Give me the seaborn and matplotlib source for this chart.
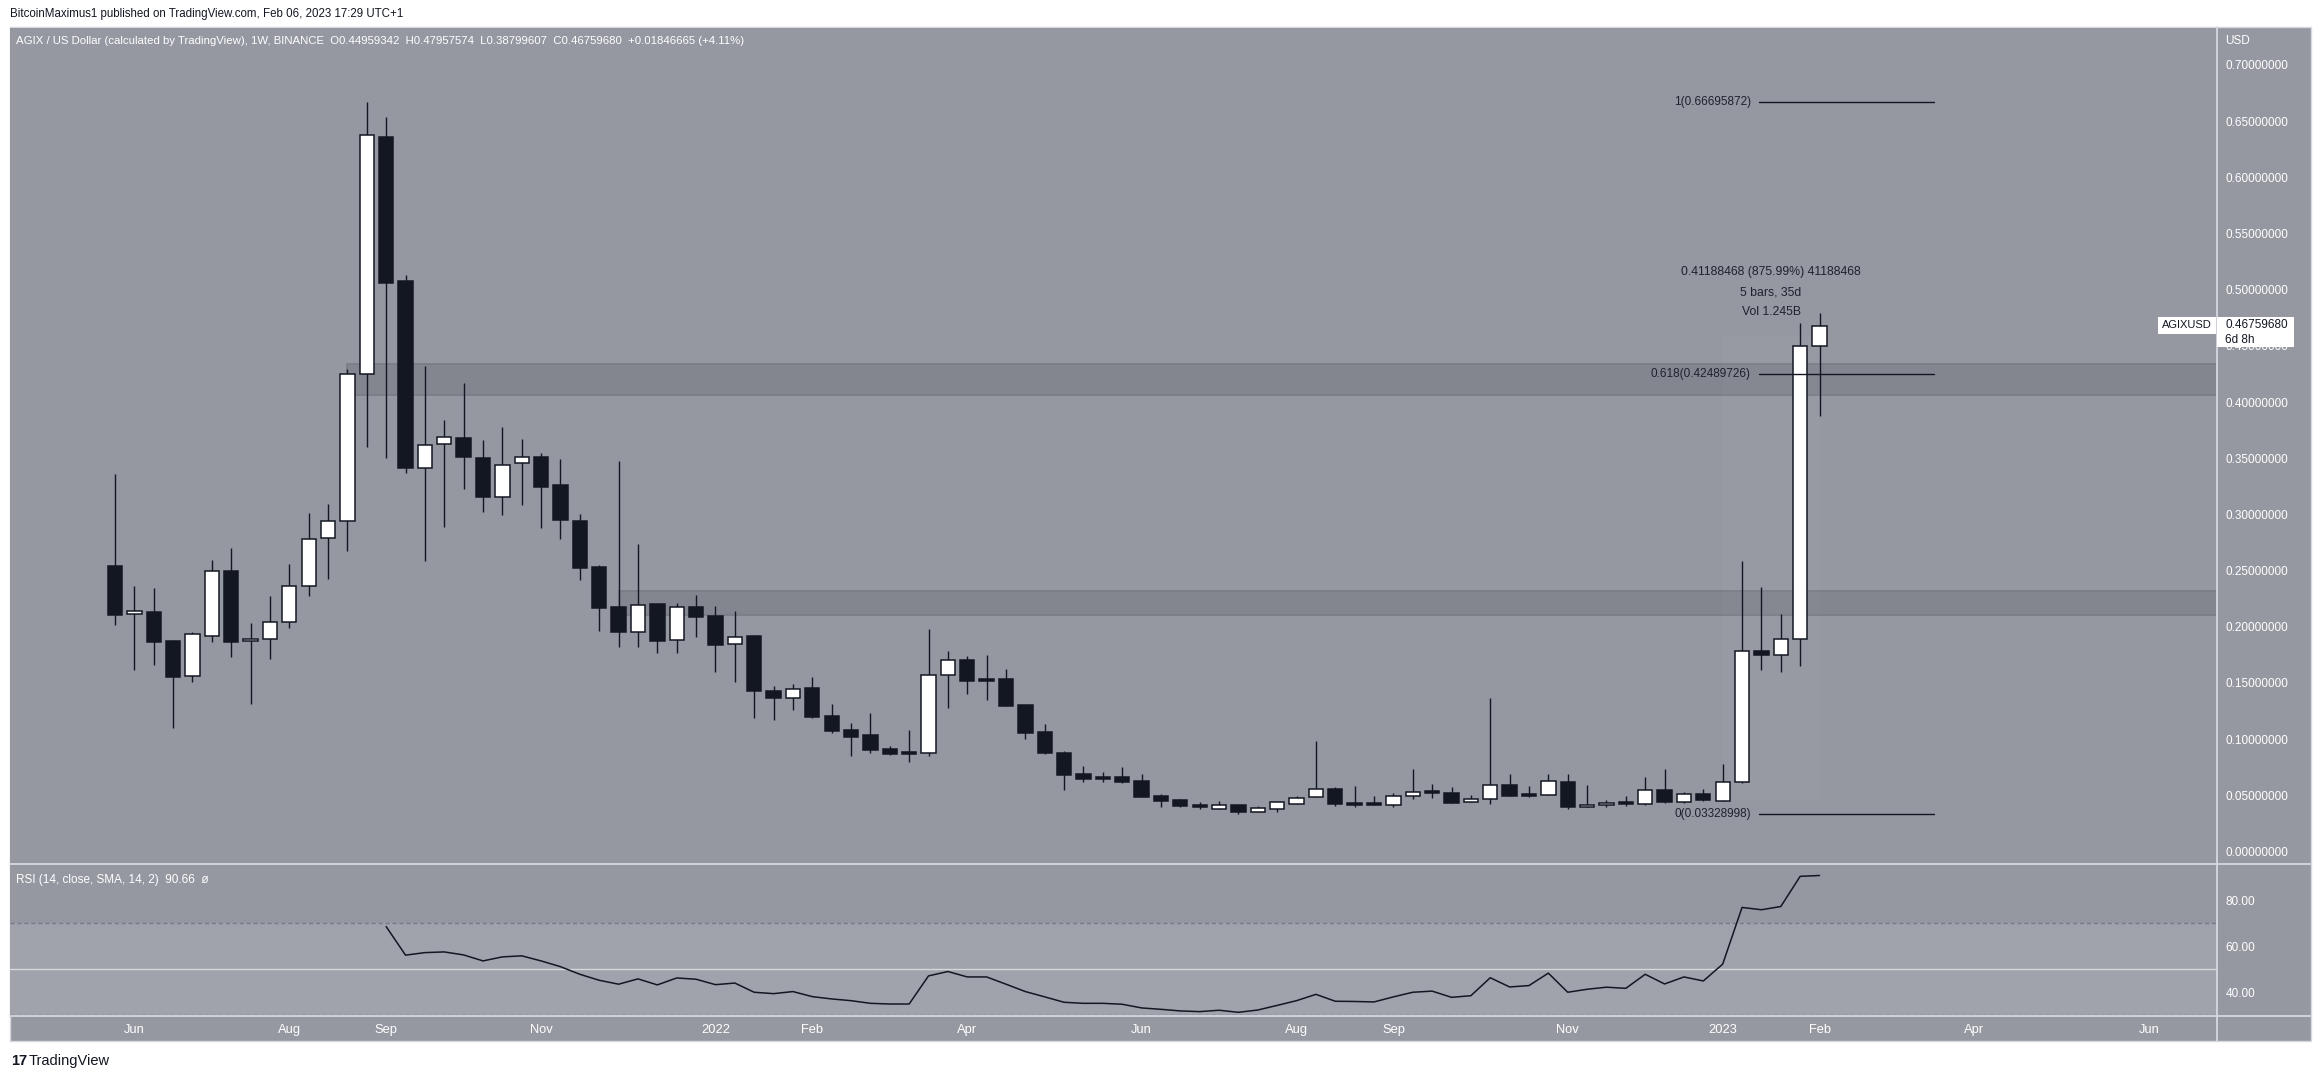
import numpy as np
import pandas as pd
import seaborn as sns
import matplotlib.pyplot as plt
from matplotlib import font_manager
from matplotlib.patches import Rectangle
from matplotlib.lines import Line2D

# weekly AGIX / USD candles, first bar week of 31 May 2021, last bar week of 6 Feb 2023
first_week = '2021-05-31'
opens = [0.2540, 0.2111, 0.2129, 0.1873, 0.1559, 0.1920, 0.2496, 0.1871, 0.1888, 0.2040,
         0.2360, 0.2787, 0.2939, 0.4247, 0.6358, 0.5077, 0.3410, 0.3624, 0.3680, 0.3502,
         0.3158, 0.3455, 0.3510, 0.3262, 0.2941, 0.2532, 0.2176, 0.1956, 0.2203, 0.1879,
         0.2176, 0.2096, 0.1844, 0.1918, 0.1428, 0.1369, 0.1455, 0.1206, 0.1081, 0.1037,
         0.0912, 0.0886, 0.0879, 0.1568, 0.1701, 0.1535, 0.1532, 0.1300, 0.1064, 0.0876,
         0.0690, 0.0663, 0.0663, 0.0628, 0.0494, 0.0458, 0.0414, 0.0381, 0.0411, 0.0354,
         0.0381, 0.0426, 0.0482, 0.0556, 0.0432, 0.0423, 0.0417, 0.0491, 0.0527, 0.0521,
         0.0438, 0.0464, 0.0589, 0.0509, 0.0506, 0.0616, 0.0393, 0.0417, 0.0438, 0.0426,
         0.0544, 0.0444, 0.0509, 0.0452, 0.0616, 0.1781, 0.1752, 0.1888, 0.44959342]
highs = [0.3360, 0.2363, 0.2342, 0.1880, 0.1950, 0.2594, 0.2700, 0.2031, 0.2274, 0.2558,
         0.3012, 0.3092, 0.4290, 0.66695872, 0.6536, 0.5130, 0.4320, 0.3840, 0.4170, 0.3662,
         0.3778, 0.3671, 0.3546, 0.3493, 0.3003, 0.2550, 0.3478, 0.2736, 0.2203, 0.2211,
         0.2283, 0.2185, 0.2143, 0.1927, 0.1473, 0.1490, 0.1553, 0.1313, 0.1143, 0.1233,
         0.0939, 0.1081, 0.1980, 0.1784, 0.1740, 0.1749, 0.1624, 0.1300, 0.1135, 0.0894,
         0.0761, 0.0706, 0.0752, 0.0690, 0.0512, 0.0467, 0.0441, 0.0450, 0.0411, 0.0405,
         0.0450, 0.0494, 0.0983, 0.0574, 0.0583, 0.0494, 0.0521, 0.0734, 0.0601, 0.0574,
         0.0500, 0.1366, 0.0690, 0.0583, 0.0690, 0.0690, 0.0589, 0.0456, 0.0491, 0.0663,
         0.0734, 0.0527, 0.0553, 0.0779, 0.2582, 0.2351, 0.2111, 0.4703, 0.47957574]
lows = [0.2016, 0.1618, 0.1660, 0.1100, 0.1510, 0.1867, 0.1734, 0.1315, 0.1716, 0.1992,
        0.2274, 0.2425, 0.2674, 0.3600, 0.3505, 0.3370, 0.2588, 0.2884, 0.3229, 0.3024,
        0.2997, 0.3084, 0.2882, 0.2784, 0.2419, 0.1965, 0.1823, 0.1823, 0.1770, 0.1770,
        0.1912, 0.1597, 0.1511, 0.1190, 0.1170, 0.1260, 0.1188, 0.1058, 0.0853, 0.0879,
        0.0862, 0.0799, 0.0853, 0.1280, 0.1404, 0.1351, 0.1298, 0.1004, 0.0871, 0.0550,
        0.0622, 0.0622, 0.0613, 0.0488, 0.0399, 0.0393, 0.0375, 0.0381, 0.03328998, 0.0354,
        0.0354, 0.0426, 0.0482, 0.0408, 0.0399, 0.0417, 0.0393, 0.0464, 0.0479, 0.0435,
        0.0438, 0.0426, 0.0497, 0.0488, 0.0506, 0.0375, 0.0393, 0.0399, 0.0408, 0.0417,
        0.0435, 0.0435, 0.0452, 0.0452, 0.0607, 0.1618, 0.1601, 0.1654, 0.38799607]
closes = [0.2105, 0.2138, 0.1867, 0.1556, 0.1933, 0.2494, 0.1867, 0.1889, 0.2040, 0.2360,
          0.2778, 0.2939, 0.4247, 0.6374, 0.5062, 0.3410, 0.3615, 0.3686, 0.3513, 0.3158,
          0.3437, 0.3508, 0.3244, 0.2953, 0.2526, 0.2170, 0.1956, 0.2191, 0.1876, 0.2173,
          0.2090, 0.1840, 0.1906, 0.1431, 0.1369, 0.1446, 0.1200, 0.1075, 0.1022, 0.0903,
          0.0871, 0.0871, 0.1568, 0.1701, 0.1520, 0.1520, 0.1298, 0.1058, 0.0879, 0.0684,
          0.0648, 0.0648, 0.0622, 0.0488, 0.0452, 0.0408, 0.0393, 0.0411, 0.0354, 0.0384,
          0.0438, 0.0473, 0.0553, 0.0426, 0.0417, 0.0417, 0.0491, 0.0527, 0.0524, 0.0435,
          0.0464, 0.0589, 0.0497, 0.0497, 0.0625, 0.0393, 0.0417, 0.0435, 0.0426, 0.0544,
          0.0444, 0.0509, 0.0461, 0.0616, 0.1781, 0.1752, 0.1888, 0.4496, 0.46759680]

# RSI(14) starts at week 14
rsi_start = 14
rsi_values = [68.5, 56.1, 57.2, 57.5, 56.2, 53.6, 55.35, 55.8, 53.6, 51.1,
              47.8, 45.2, 43.5, 45.8, 43.2, 46.2, 45.65, 43.3, 44.0, 40.0,
              39.4, 40.3, 38.1, 37.1, 36.35, 35.2, 34.9, 34.9, 47.1, 49.0,
              46.65, 46.65, 43.5, 40.3, 38.0, 35.65, 35.2, 35.2, 34.8, 33.2,
              32.6, 31.9, 31.6, 32.2, 31.3, 32.3, 34.3, 36.35, 39.1, 36.1,
              36.0, 35.8, 38.0, 40.0, 40.5, 37.8, 38.5, 46.3, 42.3, 42.9,
              48.3, 40.0, 41.3, 42.2, 41.7, 47.8, 43.6, 46.65, 44.9, 52.2,
              76.8, 75.8, 77.2, 90.3, 90.66]

tick_dates = ['2021-06-07', '2021-08-02', '2021-09-06', '2021-11-01', '2022-01-03',
              '2022-02-07', '2022-04-04', '2022-06-06', '2022-08-01', '2022-09-05',
              '2022-11-07', '2023-01-02', '2023-02-06', '2023-04-03', '2023-06-05']
tick_labels = ['Jun', 'Aug', 'Sep', 'Nov', '2022', 'Feb', 'Apr', 'Jun', 'Aug', 'Sep',
               'Nov', '2023', 'Feb', 'Apr', 'Jun']
price_ticks = np.round(np.arange(0, 0.701, 0.05), 2)
rsi_ticks = [40, 60, 80]

# support / resistance zones: start week, low, high
zones = [(12, 0.4060, 0.4338), (26, 0.2108, 0.2318)]
fib_levels = ['0', '0.618', '1']
fib_prices = [0.03328998, 0.42489726, 0.66695872]
fib_span = (84.9, 93.9)
measure_span = (83, 88)
measure_prices = (0.0470, 0.4589)
measure_lines = ['0.41188468 (875.99%) 41188468', '5 bars, 35d', 'Vol 1.245B']

BG = '#9598a1'
ZONE = '#83868f'
BAND = '#a0a3ab'
DARK = '#131722'
SEP = '#d6d8de'
W, H = 2314, 1079

sns.set_style('white', rc={'axes.facecolor': BG})
names = {f.name for f in font_manager.fontManager.ttflist}
main_font = 'Liberation Sans Narrow' if 'Liberation Sans Narrow' in names else 'Liberation Sans'
narrow = main_font == 'Liberation Sans Narrow'
plt.rcParams['font.family'] = [main_font, 'DejaVu Sans']
k = 1.15 if narrow else 1.0   # narrow face can be set a bit larger


def fx(px):
    return px / W


def fy(py):
    return 1 - py / H


fig = plt.figure(figsize=(W / 100, H / 100), dpi=100, facecolor='white')
fig.patches.append(Rectangle((fx(10), fy(1041)), (2311 - 10) / W, (1041 - 27) / H,
                             transform=fig.transFigure, facecolor=BG, edgecolor=SEP,
                             lw=1, zorder=-5))

ax = fig.add_axes([fx(10), fy(864), (2217 - 10) / W, (864 - 28) / H])
ax_rsi = fig.add_axes([fx(10), fy(1016), (2217 - 10) / W, (1016 - 864) / H], sharex=ax)

weeks = pd.date_range(first_week, periods=len(opens), freq='W-MON')
x = np.arange(len(weeks))
o, hi, lo, c = map(np.array, (opens, highs, lows, closes))
up = c >= o
bottom = np.minimum(o, c)
height = np.maximum(np.abs(c - o), 0.0012)

# zones
for start, zlo, zhi in zones:
    ax.add_patch(Rectangle((start, zlo), 200, zhi - zlo, facecolor=ZONE,
                           edgecolor='#7b7e87', lw=1.3, zorder=1))

# measure box
ax.add_patch(Rectangle((measure_span[0], measure_prices[0]),
                       measure_span[1] - measure_span[0],
                       measure_prices[1] - measure_prices[0],
                       facecolor='white', alpha=0.025, lw=0, zorder=1))

ax.vlines(x, lo, hi, color=DARK, lw=1.0, zorder=3)
ax.bar(x[up], height[up], bottom=bottom[up], width=0.74, color='white',
       edgecolor=DARK, linewidth=1.1, zorder=4)
ax.bar(x[~up], height[~up], bottom=bottom[~up], width=0.74, color=DARK,
       edgecolor=DARK, linewidth=1.1, zorder=4)

# fib retracement
for lvl, p in zip(fib_levels, fib_prices):
    ax.plot(fib_span, [p, p], color=DARK, lw=1.0, zorder=5)
    ax.text(fib_span[0] - 0.45, p, f'{lvl}({p:.8f})', ha='right', va='center',
            color='#1e222d', fontsize=8.5 * k, zorder=6)

mid = (measure_span[0] + measure_span[1]) / 2
for i, line in enumerate(measure_lines):
    ax.text(mid, 0.5157 - i * 0.0178, line, ha='center', va='center',
            color='#1e222d', fontsize=8.8 * k, zorder=6)

ax.set_xlim(-5.42, 108.52)
ax.set_ylim(-0.0111, 0.7329)
ax.set_yticks(price_ticks)
ax.set_yticklabels([f'{v:.8f}' for v in price_ticks])
ax.yaxis.tick_right()
ax.tick_params(axis='y', length=0, pad=6, labelsize=8.5 * k, labelcolor='white')
ax.tick_params(axis='x', length=0, labelbottom=False)
for s in ax.spines.values():
    s.set_visible(False)

# RSI pane
rsi_df = pd.DataFrame({'week': np.arange(rsi_start, rsi_start + len(rsi_values)),
                       'rsi': rsi_values})
ax_rsi.axhspan(30, 70, color=BAND, lw=0, zorder=0)
ax_rsi.axhline(70, color='#787b86', lw=1, ls=(0, (3, 2)), zorder=1)
ax_rsi.axhline(30, color='#787b86', lw=1, ls=(0, (3, 2)), zorder=1)
ax_rsi.axhline(50, color=SEP, lw=1, zorder=1)
sns.lineplot(data=rsi_df, x='week', y='rsi', ax=ax_rsi, color=DARK, lw=1.1, zorder=3)
ax_rsi.set_ylim(29.7, 95.65)
ax_rsi.set_yticks(rsi_ticks)
ax_rsi.set_yticklabels([f'{v:.2f}' for v in rsi_ticks])
ax_rsi.yaxis.tick_right()
ax_rsi.set_xlabel('')
ax_rsi.set_ylabel('')
t0 = pd.Timestamp(first_week)
tick_pos = [(pd.Timestamp(d) - t0).days / 7 for d in tick_dates]
ax_rsi.set_xticks(tick_pos)
ax_rsi.set_xticklabels(tick_labels)
ax_rsi.tick_params(axis='y', length=0, pad=6, labelsize=8.5 * k, labelcolor='white')
ax_rsi.tick_params(axis='x', length=0, pad=6, labelsize=9.3 * k, labelcolor='white')
for s in ax_rsi.spines.values():
    s.set_visible(False)

# pane separators
for y in (864, 1016):
    fig.add_artist(Line2D([fx(10), fx(2311)], [fy(y), fy(y)], color=SEP, lw=1.3, zorder=10))
fig.add_artist(Line2D([fx(2217), fx(2217)], [fy(27), fy(1041)], color=SEP, lw=1.3, zorder=10))

# texts
fig.text(fx(10), fy(14), 'BitcoinMaximus1 published on TradingView.com, Feb 06, 2023 17:29 UTC+1',
         ha='left', va='center', color=DARK, fontsize=8.3 * k)
fig.text(fx(16), fy(41),
         'AGIX / US Dollar (calculated by TradingView), 1W, BINANCE  O0.44959342  H0.47957574  '
         'L0.38799607  C0.46759680  +0.01846665 (+4.11%)',
         ha='left', va='center', color='white', fontsize=8.2 * k)
fig.text(fx(2225), fy(41), 'USD', ha='left', va='center', color='white', fontsize=8.5 * k)
fig.text(fx(16), fy(880), 'RSI (14, close, SMA, 14, 2)  90.66  ø',
         ha='left', va='center', color='white', fontsize=8.5 * k)

# last price label
fig.add_artist(Rectangle((fx(2158), fy(334)), 58 / W, 17 / H, transform=fig.transFigure,
                         facecolor='white', lw=0, zorder=11))
fig.add_artist(Rectangle((fx(2217), fy(347)), 77 / W, 30 / H, transform=fig.transFigure,
                         facecolor='white', lw=0, zorder=11))
fig.text(fx(2187), fy(325.5), 'AGIXUSD', ha='center', va='center', color=DARK,
         fontsize=8 * k, zorder=12)
fig.text(fx(2225), fy(325.5), '0.46759680', ha='left', va='center', color=DARK,
         fontsize=8.5 * k, zorder=12)
fig.text(fx(2225), fy(340), '6d 8h', ha='left', va='center', color=DARK,
         fontsize=8.5 * k, zorder=12)

# logo
fig.text(fx(11), fy(1061), '17', ha='left', va='center', color=DARK,
         fontsize=10.5, fontweight='bold')
fig.text(fx(29), fy(1061), 'TradingView', ha='left', va='center', color=DARK, fontsize=10.5 * k)

fig.savefig('out.png', dpi=100, facecolor='white')
